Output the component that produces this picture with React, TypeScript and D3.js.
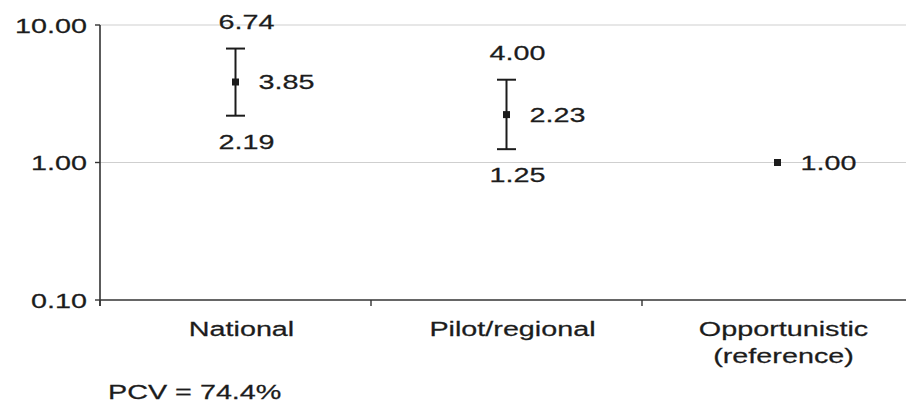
import React from "react";
import * as d3 from "d3";

const categories = ["National", "Pilot/regional", "Opportunistic"];
const categoryLines = [["National"], ["Pilot/regional"], ["Opportunistic", "(reference)"]];
const estimates = [3.85, 2.23, 1.0];
const lowerCI: (number | null)[] = [2.19, 1.25, null];
const upperCI: (number | null)[] = [6.74, 4.0, null];
const yTicks = [0.1, 1, 10];
const gridTicks = [1, 10];
const note = "PCV = 74.4%";

const width = 906;
const height = 405;
const marginLeft = 100;
const plotTop = 25;
const plotBottom = 300;
const font = "'Liberation Sans', Arial, Helvetica, sans-serif";
const fontSize = 21;
const stretch = 1.37;
const ink = "#1c1c1c";

const T = ({ x, y, anchor = "start", children }: any) => (
  <text
    transform={`translate(${x},${y}) scale(${stretch},1)`}
    textAnchor={anchor}
    fontFamily={font}
    fontSize={fontSize}
    fill={ink}
    stroke={ink}
    strokeWidth={0.25}
  >
    {children}
  </text>
);

export default function App() {
  const x = d3.scaleBand<string>().domain(categories).range([marginLeft, marginLeft + 271 * 3]).padding(0);
  const y = d3.scaleLog().domain([0.1, 10]).range([plotBottom, plotTop]);
  const cx = (c: string) => (x(c) ?? 0) + x.bandwidth() / 2;
  const fmt = d3.format(".2f");
  const bounds = x.domain().map((c) => x(c) ?? 0).concat([(x(categories[2]) ?? 0) + x.bandwidth()]);

  return (
    <svg width={width} height={height} style={{ position: "absolute", left: 0, top: 0, background: "#fff" }}>
      {/* grid */}
      {gridTicks.map((t) => (
        <line key={t} x1={marginLeft} x2={width} y1={y(t)} y2={y(t)} stroke="#cfcfcf" strokeWidth={1.2} />
      ))}
      {/* y axis */}
      <line x1={marginLeft} x2={marginLeft} y1={plotTop} y2={plotBottom + 6} stroke="#333" strokeWidth={1.6} />
      {yTicks.map((t) => (
        <g key={t}>
          <line x1={marginLeft - 5} x2={marginLeft} y1={y(t)} y2={y(t)} stroke="#333" strokeWidth={1.4} />
          <T x={marginLeft - 13} y={y(t) + 7.5} anchor="end">{fmt(t)}</T>
        </g>
      ))}
      {/* x axis */}
      <line x1={marginLeft} x2={width} y1={plotBottom} y2={plotBottom} stroke="#333" strokeWidth={1.6} />
      {bounds.map((b, i) => (
        <line key={i} x1={b} x2={b} y1={plotBottom} y2={plotBottom + 6} stroke="#333" strokeWidth={1.4} />
      ))}
      {categoryLines.map((lines, i) => (
        <g key={i}>
          {lines.map((l, j) => (
            <T key={j} x={cx(categories[i]) + 6} y={336 + j * 27} anchor="middle">{l}</T>
          ))}
        </g>
      ))}
      {/* estimates */}
      {categories.map((c, i) => {
        const px = cx(c);
        const lo = lowerCI[i];
        const hi = upperCI[i];
        return (
          <g key={c}>
            {lo != null && hi != null && (
              <g stroke={ink} strokeWidth={2}>
                <line x1={px} x2={px} y1={y(hi)} y2={y(lo)} />
                <line x1={px - 9.5} x2={px + 9.5} y1={y(hi)} y2={y(hi)} />
                <line x1={px - 9.5} x2={px + 9.5} y1={y(lo)} y2={y(lo)} />
              </g>
            )}
            <rect x={px - 3.5} y={y(estimates[i]) - 3.5} width={7} height={7} fill={ink} />
            <T x={px + 23} y={y(estimates[i]) + 7.5}>{fmt(estimates[i])}</T>
            {hi != null && <T x={px + 11} y={y(hi) - 20} anchor="middle">{fmt(hi)}</T>}
            {lo != null && <T x={px + 11} y={y(lo) + 33} anchor="middle">{fmt(lo)}</T>}
          </g>
        );
      })}
      <T x={108} y={399}>{note}</T>
    </svg>
  );
}
